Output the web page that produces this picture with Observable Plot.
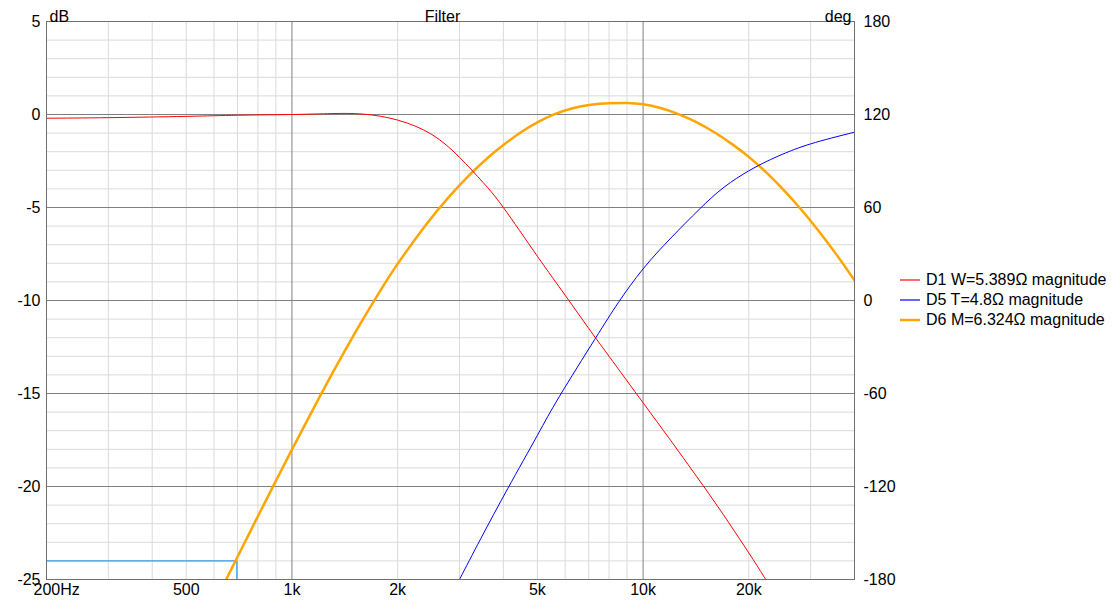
<!DOCTYPE html>
<html>
<head>
<meta charset="utf-8">
<script src="https://cdn.jsdelivr.net/npm/d3@7"></script>
<script src="https://cdn.jsdelivr.net/npm/@observablehq/plot@0.6"></script>
<style>
  html, body { margin: 0; padding: 0; background: #fff; }
  #wrap { position: relative; width: 1116px; height: 600px; font-family: "Liberation Sans", Arial, sans-serif; }
  #legend { position: absolute; left: 900px; top: 270px; font-size: 16px; color: #000; }
  .row { display: flex; align-items: center; height: 20px; white-space: nowrap; }
  .sw { width: 20px; margin-right: 6px; }
</style>
</head>
<body>
<div id="wrap"></div>
<script>
// ---- data ----
const seriesNames = ["D1 W=5.389Ω magnitude", "D5 T=4.8Ω magnitude", "D6 M=6.324Ω magnitude"];
const seriesColors = ["#ff0000", "#0000ff", "#ffa500"];
const seriesWidths = [1, 1, 2.5];

const wooferFreq = [200, 300, 500, 700, 1000, 1300, 1600, 2000, 2500, 3000, 3500, 4000, 5000, 6000, 7000, 8000, 10000, 12000, 15000, 17500, 20000, 22200, 25000];
const wooferDb   = [-0.2, -0.17, -0.1, -0.04, 0.0, 0.05, 0.02, -0.3, -1.07, -2.3, -3.65, -5.0, -7.62, -9.72, -11.5, -13.0, -15.5, -17.54, -20.09, -21.92, -23.57, -24.91, -26.48];

const tweeterFreq = [2800, 3010, 3450, 4120, 5000, 5780, 7290, 8510, 10000, 12000, 14450, 17000, 20000, 22500, 25000, 30000, 40000];
const tweeterDb   = [-26.1, -24.95, -22.8, -20.1, -17.25, -15.15, -12.08, -10.1, -8.3, -6.64, -5.1, -3.91, -3.03, -2.52, -2.13, -1.58, -0.95];

const midFreq = [630, 700, 800, 900, 1000, 1200, 1400, 1600, 1800, 2000, 2400, 2800, 3200, 3600, 4000, 4500, 5000, 5600, 6300, 7100, 8000, 9000, 10000, 11200, 12500, 14000, 16000, 18000, 20000, 22500, 25000, 28000, 31500, 35500, 40000];
const midDb   = [-25.5, -23.78, -21.6, -19.7, -18.02, -15.17, -12.86, -10.95, -9.36, -8.03, -5.97, -4.43, -3.26, -2.35, -1.64, -0.94, -0.42, 0.02, 0.34, 0.53, 0.61, 0.62, 0.55, 0.35, 0.05, -0.36, -0.97, -1.62, -2.28, -3.14, -4.01, -5.04, -6.22, -7.52, -8.92];

const cursorFreq = [200, 697, 697];
const cursorDb   = [-24, -24, -25];

const xTicks = [500, 1000, 2000, 5000, 10000, 20000];
const xTickLabels = ["500", "1k", "2k", "5k", "10k", "20k"];
const yTicks = [5, 0, -5, -10, -15, -20, -25];
const majorX = [1000, 10000];
const minorX = [300, 400, 500, 600, 700, 800, 900, 2000, 3000, 4000, 5000, 6000, 7000, 8000, 9000, 20000, 30000];
const majorY = [0, -5, -10, -15, -20];
const minorY = d3.range(-24, 5).filter(v => v % 5 !== 0);

// ---- build ----
const toRows = (fs, ds) => fs.map((f, i) => ({f, db: ds[i]}));
const woofer = toRows(wooferFreq, wooferDb);
const tweeter = toRows(tweeterFreq, tweeterDb);
const mid = toRows(midFreq, midDb);
const cursor = toRows(cursorFreq, cursorDb);
const xLabelRows = xTicks.map((f, i) => ({f, label: xTickLabels[i]}));

const chart = Plot.plot({
  width: 1116,
  height: 600,
  marginLeft: 46,
  marginRight: 262,
  marginTop: 21,
  marginBottom: 21,
  style: {fontFamily: "'Liberation Sans', Arial, sans-serif", fontSize: "16px", color: "#000", background: "transparent"},
  x: {type: "log", domain: [200, 40000], axis: null},
  y: {domain: [-25, 5], axis: null},
  marks: [
    Plot.ruleX(minorX, {stroke: "#dadada"}),
    Plot.ruleY(minorY, {stroke: "#dadada"}),
    Plot.ruleX(majorX, {stroke: "#808080"}),
    Plot.ruleY(majorY, {stroke: "#808080"}),
    Plot.line(cursor, {x: "f", y: "db", stroke: "#3399e8", strokeWidth: 1.3, curve: "linear"}),
    Plot.line(mid, {x: "f", y: "db", stroke: seriesColors[2], strokeWidth: seriesWidths[2], curve: "natural", clip: true}),
    Plot.line(tweeter, {x: "f", y: "db", stroke: seriesColors[1], strokeWidth: seriesWidths[1], curve: "natural", clip: true}),
    Plot.line(woofer, {x: "f", y: "db", stroke: seriesColors[0], strokeWidth: seriesWidths[0], curve: "natural", clip: true}),
    Plot.frame({stroke: "#707070"}),
    Plot.axisY({anchor: "left", ticks: yTicks, tickSize: 0, tickPadding: 6, tickFormat: d => String(d), label: null}),
    Plot.axisY({anchor: "right", ticks: yTicks, tickSize: 0, tickPadding: 9, tickFormat: d => String((d + 10) * 12), label: null}),
    Plot.text(xLabelRows, {x: "f", text: "label", frameAnchor: "bottom", textAnchor: "middle", lineAnchor: "top", dy: 4}),
    Plot.text([200], {x: d => d, text: () => "200Hz", frameAnchor: "bottom", textAnchor: "start", lineAnchor: "top", dx: -13, dy: 4}),
    Plot.text(["dB"], {frameAnchor: "top-left", textAnchor: "start", lineAnchor: "bottom", dx: 3}),
    Plot.text(["Filter"], {frameAnchor: "top", textAnchor: "middle", lineAnchor: "bottom", dx: -8}),
    Plot.text(["deg"], {frameAnchor: "top-right", textAnchor: "end", lineAnchor: "bottom", dx: -3})
  ]
});

const wrap = document.getElementById("wrap");
wrap.appendChild(chart);

const legend = document.createElement("div");
legend.id = "legend";
seriesNames.forEach((name, i) => {
  const row = document.createElement("div");
  row.className = "row";
  row.innerHTML = `<svg class="sw" width="20" height="4"><line x1="0" x2="20" y1="2" y2="2" stroke="${seriesColors[i]}" stroke-width="${seriesWidths[i] > 1 ? 2.5 : 1.2}"/></svg><span>${name}</span>`;
  legend.appendChild(row);
});
wrap.appendChild(legend);
</script>
</body>
</html>
